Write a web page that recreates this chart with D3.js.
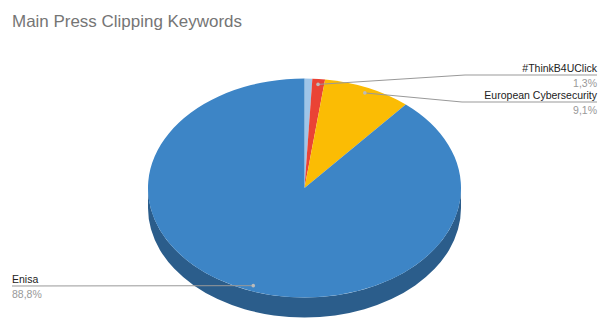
<!DOCTYPE html>
<html>
<head>
<meta charset="utf-8">
<script src="https://cdn.jsdelivr.net/npm/d3@7"></script>
<style>
  body { margin: 0; background: #fff; }
  text { font-family: Arial, "Liberation Sans", sans-serif; }
</style>
</head>
<body>
<div id="chart"></div>
<script>
// Data
const categories = ["", "#ThinkB4UClick", "European Cybersecurity", "Enisa"];
const values = [0.8, 1.3, 9.1, 88.8];
const valueLabels = ["0,8%", "1,3%", "9,1%", "88,8%"];
const colors = ["#9fc5e8", "#ea4335", "#fbbc04", "#3d85c6"];
const showLabel = [false, true, true, true];

const width = 600;
const height = 320;
const cx = 304.5, cy = 188;
const rx = 156.5, ry = 109.5;
const depth = 20;

const svg = d3.select("#chart").append("svg")
    .attr("width", width)
    .attr("height", height);

svg.append("text")
    .attr("x", 12)
    .attr("y", 27)
    .attr("font-size", 16.5)
    .attr("textLength", 230)
    .attr("lengthAdjust", "spacingAndGlyphs")
    .attr("fill", "#757575")
    .text("Main Press Clipping Keywords");

const data = categories.map((c, i) => ({ name: c, value: values[i], label: valueLabels[i], color: colors[i], show: showLabel[i] }));

const pie = d3.pie().sort(null).value(d => d.value);
const arcs = pie(data);

// point on the ellipse, angle clockwise from 12 o'clock
const pt = (a, f = 1) => [cx + f * rx * Math.sin(a), cy - f * ry * Math.cos(a)];

// side (only the front half is visible)
const sideG = svg.append("g");
arcs.forEach(d => {
  const s = Math.max(d.startAngle, Math.PI / 2);
  const e = Math.min(d.endAngle, Math.PI * 1.5);
  if (e <= s) return;
  const p0 = pt(s), p1 = pt(e);
  sideG.append("path")
      .attr("d", `M${p0[0]},${p0[1]} A${rx},${ry} 0 0 1 ${p1[0]},${p1[1]} L${p1[0]},${p1[1] + depth} A${rx},${ry} 0 0 0 ${p0[0]},${p0[1] + depth} Z`)
      .attr("fill", d3.color(d.data.color).darker(1));
});

// top face
const topG = svg.append("g");
arcs.forEach(d => {
  const p0 = pt(d.startAngle), p1 = pt(d.endAngle);
  const large = d.endAngle - d.startAngle > Math.PI ? 1 : 0;
  topG.append("path")
      .attr("d", `M${cx},${cy} L${p0[0]},${p0[1]} A${rx},${ry} 0 ${large} 1 ${p1[0]},${p1[1]} Z`)
      .attr("fill", d.data.color);
});

// labels with leader lines
const labelPos = {
  "#ThinkB4UClick": { side: "right", y: 75, elbow: 465 },
  "European Cybersecurity": { side: "right", y: 102, elbow: 462 },
  "Enisa": { side: "left", y: 286 }
};

const lab = svg.append("g");
arcs.filter(d => d.data.show).forEach(d => {
  const mid = (d.startAngle + d.endAngle) / 2;
  const dot = pt(mid, 0.95);
  const lp = labelPos[d.data.name];
  let pts;
  if (lp.side === "right") {
    pts = [dot, [lp.elbow, lp.y], [597, lp.y]];
  } else {
    pts = [dot, [12, lp.y]];
  }
  lab.append("path")
      .attr("d", d3.line()(pts))
      .attr("fill", "none")
      .attr("stroke", "#999")
      .attr("stroke-width", 1);
  lab.append("circle")
      .attr("cx", dot[0]).attr("cy", dot[1]).attr("r", 1.8)
      .attr("fill", "#bbb");
  const tx = lp.side === "right" ? 597 : 12;
  const anchor = lp.side === "right" ? "end" : "start";
  lab.append("text")
      .attr("x", tx).attr("y", lp.y - 3.5)
      .attr("text-anchor", anchor)
      .attr("font-size", 10.5)
      .attr("fill", "#222")
      .text(d.data.name);
  lab.append("text")
      .attr("x", tx).attr("y", lp.y + 12)
      .attr("text-anchor", anchor)
      .attr("font-size", 10.5)
      .attr("fill", "#999")
      .text(d.data.label);
});
</script>
</body>
</html>
